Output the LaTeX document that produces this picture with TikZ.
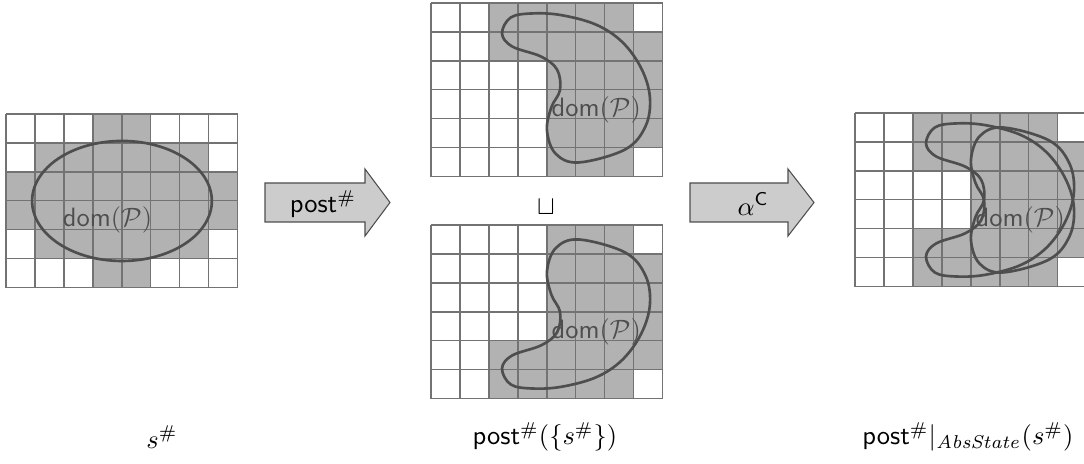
\documentclass[tikz,border=0pt]{standalone}
\usepackage{amsmath,amssymb}
\usepackage{tikz}
\usetikzlibrary{calc}
\definecolor{cellGray}{RGB}{178,178,178}
\definecolor{lineGray}{RGB}{115,115,115}
\definecolor{curveGray}{RGB}{78,78,78}
\definecolor{arrowGray}{RGB}{204,204,204}

\tikzset{
  gridline/.style={lineGray, line width=0.4pt},
  beanline/.style={curveGray, line width=1pt},
  bigarrow/.style={draw=curveGray, fill=arrowGray, line width=0.4pt},
  domlabel/.style={text=curveGray, inner sep=1pt}
}
% the cells of one panel
\newcommand{\cellgrid}{%
  \foreach \i in {0,...,8} \draw[gridline] (\i,0) -- (\i,6);
  \foreach \j in {0,...,6} \draw[gridline] (0,\j) -- (8,\j);
}
% the bean shaped domain
\newcommand{\drawbean}[1][]{%
  \draw[beanline,#1] plot[smooth cycle, tension=0.6] coordinates {
    (2.45,1.05) (2.75,0.5) (3.5,0.36) (4.5,0.42) (5.7,0.75) (6.6,1.35)
    (7.25,2.25) (7.55,3.25) (7.4,4.25) (6.7,5.05) (5.1,5.5) (4.3,5.2)
    (4.0,4.4) (4.15,3.6) (4.45,3.0) (4.35,2.3) (3.8,1.85) (2.8,1.5)};
}

\begin{document}
\begin{tikzpicture}[x=0.377pt, y=-0.377pt]
    \useasboundingbox (0,0) rectangle (1084,464);

    % s#
    \begin{scope}[shift={(6,114)}, x=10.93pt, y=-10.93pt]
        \fill[cellGray] (3,0) rectangle (5,1) (1,1) rectangle (7,2) (0,2) rectangle (8,4)
            (1,4) rectangle (7,5) (3,5) rectangle (5,6);
        \cellgrid
        \draw[beanline] (4,3) ellipse [x radius=3.1, y radius=2.07];
        \node[domlabel] (domS) at (3.5,3.66) {\textsf{dom}$(\mathcal{P})$};
    \end{scope}

    % post# of s#, upper part
    \begin{scope}[shift={(431,3)}, x=10.93pt, y=-10.93pt]
        \fill[cellGray] (2,0) rectangle (7,1) (2,1) rectangle (8,2) (4,2) rectangle (8,5)
            (4,5) rectangle (7,6);
        \cellgrid
        \drawbean
        \node[domlabel] (domU) at (5.7,3.7) {\textsf{dom}$(\mathcal{P})$};
    \end{scope}

    % post# of s#, lower part
    \begin{scope}[shift={(431,225)}, x=10.93pt, y=-10.93pt]
        \fill[cellGray] (4,0) rectangle (7,1) (4,1) rectangle (8,4) (2,4) rectangle (8,5)
            (2,5) rectangle (7,6);
        \cellgrid
        \begin{scope}[shift={(0,6)}, yscale=-1]
            \drawbean
        \end{scope}
        \node[domlabel] (domL) at (5.7,3.7) {\textsf{dom}$(\mathcal{P})$};
    \end{scope}

    % abstraction of the join
    \begin{scope}[shift={(855,113)}, x=10.93pt, y=-10.93pt]
        \fill[cellGray] (2,0) rectangle (7,1) (2,1) rectangle (8,2) (4,2) rectangle (8,4)
            (2,4) rectangle (8,5) (2,5) rectangle (7,6);
        \cellgrid
        \drawbean
        \begin{scope}[shift={(0,6)}, yscale=-1]
            \drawbean
        \end{scope}
        \node[domlabel] (domA) at (5.7,3.7) {\textsf{dom}$(\mathcal{P})$};
    \end{scope}

    % arrows
    \draw[bigarrow] (265,183) -- (365,183) -- (365,169) -- (390,202.5) -- (365,236)
        -- (365,222) -- (265,222) -- cycle;
    \node (post) at (323,204) {$\mathsf{post}^{\#}$};
    \draw[bigarrow] (690,183) -- (788,183) -- (788,169) -- (814,202.5) -- (788,236)
        -- (788,222) -- (690,222) -- cycle;
    \node (alpha) at (753,204) {$\alpha^{\mathsf{C}}$};

    \node (join) at (546,207) {$\sqcup$};

    % captions
    \node (capS) at (162,437) {$s^{\#}$};
    \node (capP) at (545,437) {$\mathsf{post}^{\#}(\{s^{\#}\})$};
    \node (capA) at (968,437) {$\mathsf{post}^{\#}|_{\mathit{AbsState}}(s^{\#})$};

\end{tikzpicture}
\end{document}
